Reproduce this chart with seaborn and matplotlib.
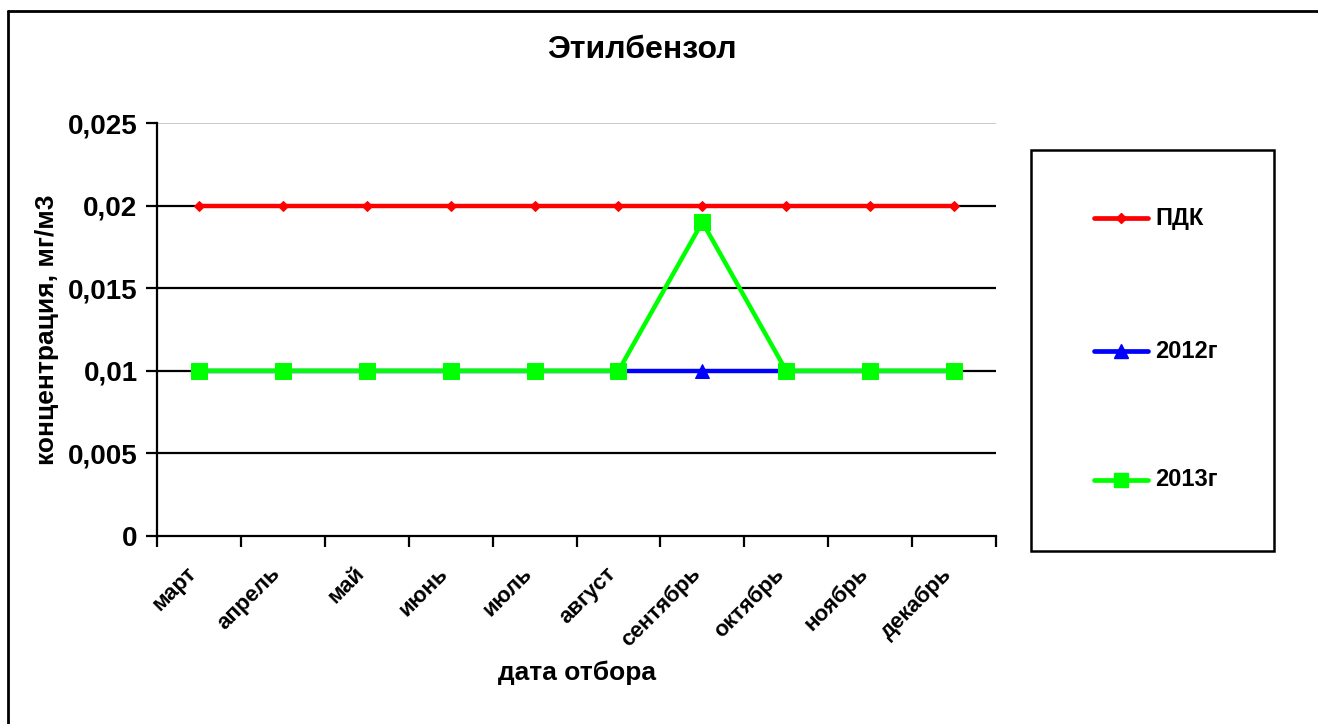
import numpy as np
import pandas as pd
import matplotlib
matplotlib.use("Agg")
import matplotlib.pyplot as plt
import seaborn as sns
from matplotlib.lines import Line2D
from matplotlib.patches import Rectangle
from matplotlib.ticker import FuncFormatter, FixedLocator
from matplotlib.transforms import ScaledTranslation

# chart data
months = ["март", "апрель", "май", "июнь", "июль", "август",
          "сентябрь", "октябрь", "ноябрь", "декабрь"]
pdk = [0.02, 0.02, 0.02, 0.02, 0.02, 0.02, 0.02, 0.02, 0.02, 0.02]
y2012 = [0.01, 0.01, 0.01, 0.01, 0.01, 0.01, 0.01, 0.01, 0.01, 0.01]
y2013 = [0.01, 0.01, 0.01, 0.01, 0.01, 0.01, 0.019, 0.01, 0.01, 0.01]
series_names = ["ПДК", "2012г", "2013г"]
y_ticks = [0, 0.005, 0.01, 0.015, 0.02, 0.025]

sns.set_style("white")
plt.rcParams["font.family"] = ["Liberation Sans", "DejaVu Sans"]
plt.rcParams["font.weight"] = "bold"
plt.rcParams["text.color"] = "black"
plt.rcParams["axes.labelcolor"] = "black"
plt.rcParams["xtick.color"] = "black"
plt.rcParams["ytick.color"] = "black"

W, H = 1318, 724
fig = plt.figure(figsize=(W / 100, H / 100), dpi=100)
ax = fig.add_axes([157 / W, 1 - 536 / H, (996 - 157) / W, (536 - 123) / H])

x = np.arange(len(months))
df = pd.DataFrame({"x": x, "ПДК": pdk, "2012г": y2012, "2013г": y2013})

styles = {
    "ПДК": dict(color="#ff0000", marker="D", markersize=5),
    "2012г": dict(color="#0000ff", marker="^", markersize=10),
    "2013г": dict(color="#00ff00", marker="s", markersize=11),
}

for name in series_names:
    st = styles[name]
    sns.lineplot(data=df, x="x", y=name, ax=ax, color=st["color"],
                 marker=st["marker"], markersize=st["markersize"],
                 markeredgecolor=st["color"], linewidth=3.2, zorder=3,
                 label=name, legend=False)

ax.set_xlim(-0.5, len(months) - 0.5)
ax.set_ylim(0, 0.025)

# gridlines: black, top one light grey
for v in y_ticks[1:-1]:
    ax.axhline(v, color="black", linewidth=1.6, zorder=1)
ax.axhline(0.025, color="#c0c0c0", linewidth=1.2, zorder=1)

for s in ["top", "right"]:
    ax.spines[s].set_visible(False)
for s in ["left", "bottom"]:
    ax.spines[s].set_color("black")
    ax.spines[s].set_linewidth(1.6)

ax.yaxis.set_major_locator(FixedLocator(y_ticks))
ax.yaxis.set_major_formatter(FuncFormatter(lambda v, p: ("%g" % v).replace(".", ",")))
ax.tick_params(axis="y", which="major", direction="out", length=8, width=1.6,
               color="black", labelsize=20, pad=6, left=True)

# category labels at centres, tick marks at boundaries
ax.set_xticks(x)
ax.set_xticklabels(months, rotation=45, ha="right", rotation_mode="anchor")
ax.tick_params(axis="x", which="major", length=0, labelsize=16, pad=24)
ax.set_xticks(np.arange(len(months) + 1) - 0.5, minor=True)
ax.tick_params(axis="x", which="minor", direction="out", length=8, width=1.6,
               color="black", bottom=True)
shift = ScaledTranslation(-13 / 100, 6 / 100, fig.dpi_scale_trans)
for lbl in ax.get_xticklabels():
    lbl.set_transform(lbl.get_transform() + shift)
for lbl in ax.get_xticklabels() + ax.get_yticklabels():
    lbl.set_fontweight("bold")

ax.set_xlabel("дата отбора", fontsize=19, fontweight="bold", labelpad=7)
ax.set_ylabel("концентрация, мг/м3", fontsize=19, fontweight="bold", labelpad=6)
fig.text(642 / W, 1 - 50 / H, "Этилбензол", ha="center", va="center",
         fontsize=23, fontweight="bold")

# legend box
fig.patches.append(Rectangle((1031 / W, 1 - 551 / H), (1274 - 1031) / W, (551 - 150) / H,
                             transform=fig.transFigure, fill=False,
                             edgecolor="black", linewidth=1.8))
leg_y = [218, 351, 480]
for name, yy in zip(series_names, leg_y):
    st = styles[name]
    fy = 1 - yy / H
    fig.lines.append(Line2D([1094 / W, 1148 / W], [fy, fy], transform=fig.transFigure,
                            color=st["color"], linewidth=3.4, solid_capstyle="round"))
    fig.lines.append(Line2D([1121 / W], [fy], transform=fig.transFigure,
                            color=st["color"], marker=st["marker"],
                            markersize=st["markersize"] * 0.95, linestyle="none"))
    fig.text(1155 / W, fy, name, ha="left", va="center", fontsize=17, fontweight="bold")

# outer chart frame (left and top edges)
fig.lines.append(Line2D([8 / W, 8 / W], [0, 1 - 11 / H], transform=fig.transFigure,
                        color="black", linewidth=2))
fig.lines.append(Line2D([8 / W, 1], [1 - 11 / H, 1 - 11 / H], transform=fig.transFigure,
                        color="black", linewidth=2))

fig.savefig("out.png", dpi=100)
